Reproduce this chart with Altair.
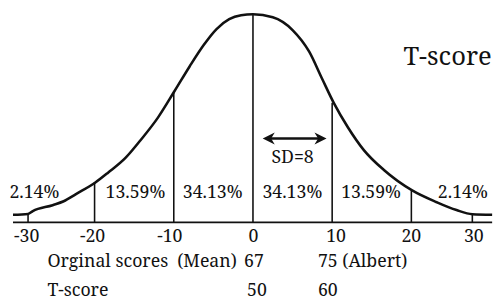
import altair as alt
import pandas as pd

# ---- data ----
# bell curve (x in T-score distance units, h = height above baseline)
curve_u = [-30.3, -28.4, -27.8, -25.3, -23.9, -22.4, -19.9, -18.3, -16.1, -14.2, -12.0,
           -9.9, -8.0, -6.2, -4.6, -3.0, -1.5, 0.0, 2.5, 5.0, 7.1, 8.7, 10.2, 12.0,
           14.0, 16.5, 20.1, 23.2, 25.7, 27.7, 30.2]
curve_h = [7.8, 8.6, 11.5, 17.5, 21.5, 28.5, 40.5, 50.5, 65.5, 83.5, 106.5,
           133.5, 158.5, 180.5, 196.5, 206.5, 210.5, 211.5, 208.5, 195.5, 173.5, 146.5, 121.5, 96.5,
           73.5, 53.5, 32.5, 20.5, 12.5, 8.3, 7.8]

# vertical division lines and their tops
vline_u = [-28.4, -20.0, -10.0, 0.0, 10.0, 20.0, 27.7]
vline_top = [8.6, 40.5, 133.5, 211.5, 121.5, 32.0, 8.3]

# baseline extent
base_u = [-30.3]
base_u2 = [30.2]

# area percentages
pct_labels = ["2.14%", "13.59%", "34.13%", "34.13%", "13.59%", "2.14%"]
pct_u = [-27.6, -14.84, -5.09, 4.97, 14.91, 26.5]

# tick labels
tick_labels = ["-30", "-20", "-10", "0", "10", "20", "30"]
tick_u = [-28.57, -20.25, -10.50, 0.06, 10.50, 20.0, 27.89]

# rows of scores under the axis (left aligned)
row1_labels = ["Orginal scores", "(Mean)", "67", "75 (Albert)"]
row1_u = [-25.96, -9.57, -1.12, 8.2]
row2_labels = ["T-score", "50", "60"]
row2_u = [-25.96, -0.75, 8.2]

# SD arrow
arrow_u = [1.99]
arrow_u2 = [8.53]

# ---- chart ----
INK = "#111111"
FONT = "Noto Serif"
xs = alt.Scale(domain=[-30.932, 30.435], nice=False, zero=False)
ys = alt.Scale(domain=[-77.5, 215.5], nice=False, zero=False)


def X(f="u"):
    return alt.X(f"{f}:Q", scale=xs, axis=None)


def Y(f="h"):
    return alt.Y(f"{f}:Q", scale=ys, axis=None)


curve_df = pd.DataFrame({"u": curve_u, "h": curve_h})
vline_df = pd.DataFrame({"u": vline_u, "h": [0.0] * len(vline_u), "h2": vline_top})
base_df = pd.DataFrame({"u": base_u, "u2": base_u2, "h": [0.0]})
pct_df = pd.DataFrame({"u": pct_u, "h": [25.2] * len(pct_u), "label": pct_labels})
tick_df = pd.DataFrame({"u": tick_u, "h": [-19.8] * len(tick_u), "label": tick_labels})
row1_df = pd.DataFrame({"u": row1_u, "h": [-45.5] * len(row1_u), "label": row1_labels})
row2_df = pd.DataFrame({"u": row2_u, "h": [-74.8] * len(row2_u), "label": row2_labels})
arrow_df = pd.DataFrame({"u": arrow_u, "u2": arrow_u2, "h": [85.2]})
sd_df = pd.DataFrame({"u": [5.0], "h": [60.2], "label": ["SD=8"]})
title_df = pd.DataFrame({"u": [19.0], "h": [160.2], "label": ["T-score"]})

curve = alt.Chart(curve_df).mark_line(color=INK, strokeWidth=2.6, interpolate="monotone").encode(
    x=X(), y=Y())
vlines = alt.Chart(vline_df).mark_rule(color=INK, strokeWidth=1.6).encode(
    x=X(), y=Y(), y2="h2:Q")
base = alt.Chart(base_df).mark_rule(color=INK, strokeWidth=2).encode(
    x=X(), x2="u2:Q", y=Y())


def texts(df, size=18, align="center"):
    return alt.Chart(df).mark_text(font=FONT, fontSize=size, color=INK, align=align,
                                   baseline="alphabetic").encode(x=X(), y=Y(), text="label:N")


arrow_line = alt.Chart(arrow_df).mark_rule(color=INK, strokeWidth=2.6).encode(
    x=X(), x2="u2:Q", y=Y())
head_l = alt.Chart(arrow_df).mark_point(shape="M-1,0L1,-1L0.4,0L1,1Z", filled=True, size=150,
                                        color=INK, opacity=1, strokeWidth=0).encode(x=X(), y=Y())
head_r = alt.Chart(arrow_df).mark_point(shape="M1,0L-1,-1L-0.4,0L-1,1Z", filled=True, size=150,
                                        color=INK, opacity=1, strokeWidth=0).encode(x=X("u2"), y=Y())

chart = alt.layer(
    base, vlines, curve,
    texts(pct_df), texts(tick_df), texts(row1_df, align="left"), texts(row2_df, align="left"),
    arrow_line, head_l, head_r, texts(sd_df), texts(title_df, size=26, align="left"),
).properties(width=494, height=293, padding=0, autosize="none", background="white"
).configure_view(stroke=None)

chart.save("out.html", embed_options={"renderer": "svg", "actions": False})
